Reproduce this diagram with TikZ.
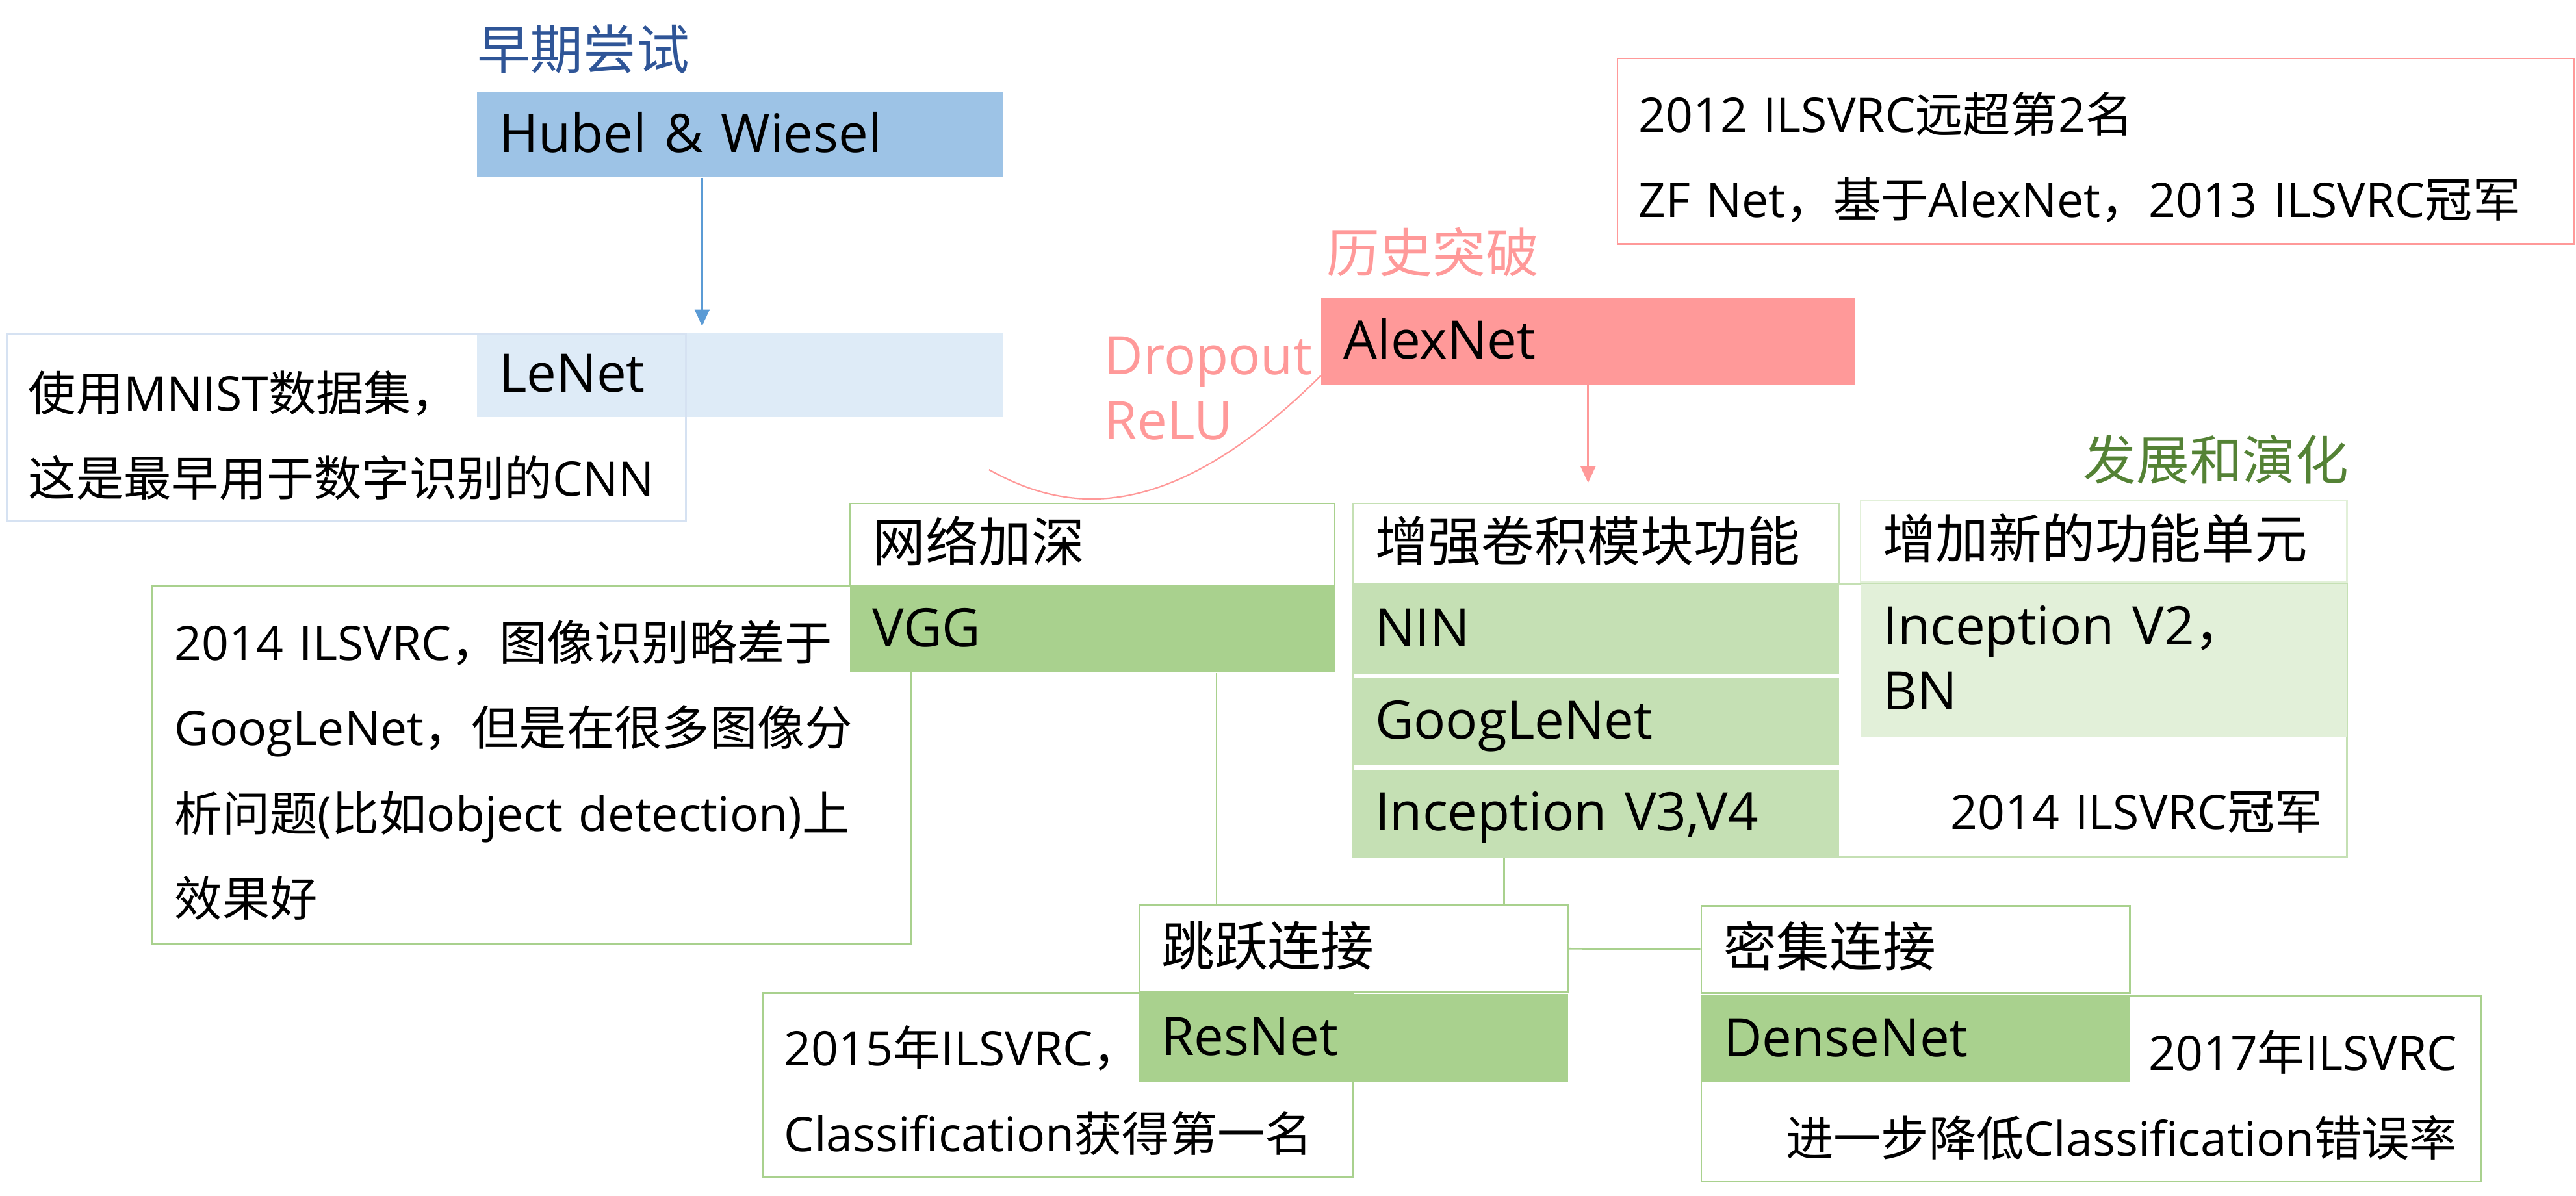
\documentclass[tikz,border=0pt]{standalone}
\usepackage{fontspec}
\setmainfont{Open Sans}
\newfontfamily\cjk{Noto Sans CJK SC}
\usepackage{xcolor}
\usepackage{tikz}
\usetikzlibrary{positioning,arrows.meta}
\definecolor{titleblue}{HTML}{2F5597}
\definecolor{hubelfill}{HTML}{9DC3E6}
\definecolor{arrblue}{HTML}{5B9BD5}
\definecolor{lenetfill}{HTML}{DEEBF7}
\definecolor{lenetline}{HTML}{D6E2F2}
\definecolor{pink}{HTML}{FF9999}
\definecolor{grnA}{HTML}{A9D18E}
\definecolor{grnB}{HTML}{C5E0B4}
\definecolor{grnC}{HTML}{E2F0D9}
\definecolor{grnT}{HTML}{548235}
\newcommand{\zh}[1]{{\cjk #1}}
\newcommand{\boxfont}{\fontsize{18.4}{22.6}\selectfont}
\newcommand{\notefont}{\fontsize{16.5}{29.6}\selectfont}
\newcommand{\boxstrut}{\rule[-0.25em]{0pt}{1.15em}}
\tikzset{
  blk/.style n args={2}{rectangle, anchor=north west, inner xsep=0.27cm, inner ysep=0pt,
    minimum width=#1*0.02cm, minimum height=#2*0.02cm, text width=#1*0.02cm-0.54cm,
    align=left, font=\boxfont},
  hdr/.style={draw=#1, line width=0.6pt, fill=white},
  note/.style={draw=#1, line width=0.6pt},
  tit/.style={inner sep=0pt, font=\boxfont, anchor=base west},
  labs/.style={inner sep=0pt, font=\notefont, text width=14cm, align=left, anchor=base west},
  link/.style={draw=grnA, line width=0.6pt},
  arr/.style={draw=#1, line width=0.6pt, -{Triangle[length=0.2cm,width=0.18cm]}},
}
\begin{document}
\begin{tikzpicture}[x=0.02cm, y=-0.02cm]
  \useasboundingbox (0,0) rectangle (1568,728);
  \fill[white] (0,0) rectangle (1568,728);

  % early attempts
  \node[tit, text=titleblue] (t1) at (290,42) {\zh{早期尝试}};
  \node[blk={320}{51.5}, fill=hubelfill] (hubel) at (290,56) {\boxstrut Hubel \& Wiesel};
  \node[blk={320}{51.5}, fill=lenetfill] (lenet) at (290,202) {\boxstrut LeNet};
  \node[blk={413}{114}, note=lenetline] (lenetnote) at (4,202.5) {};
  \node[labs] (lenettxt) at (17,250) {\zh{使用}MNIST\zh{数据集，}\\\zh{这是最早用于数字识别的}CNN};
  \draw[arr=arrblue, shorten >=2pt] ([xshift=-0.46cm]hubel.south) -- ([xshift=-0.46cm]lenet.north);

  % breakthrough
  \node[tit, text=pink] (t2) at (807,166) {\zh{历史突破}};
  \node[blk={324.6}{53}, fill=pink] (alexnet) at (804,181) {\boxstrut AlexNet};
  \node[blk={582}{113}, note=pink] (zfnote) at (984,35) {};
  \node[labs] (zftxt) at (997,80.4) {2012 ILSVRC\zh{远超第}2\zh{名}\\ZF Net\zh{，基于}AlexNet\zh{，}2013 ILSVRC\zh{冠军}};
  \node[tit, text=pink, text width=4cm, align=left] (drop) at (672,228) {Dropout\\ReLU};
  \coordinate (dropend) at (602,286);
  \draw[pink, line width=0.5pt] ([yshift=0.12cm]alexnet.south west) .. controls (709,323) and (647,311) .. (dropend);

  % development
  \node[tit, text=grnT, anchor=base east] (t3) at (1430,292) {\zh{发展和演化}};
  \node[blk={605}{166}, note=grnB] (winnote) at (823,355) {};
  \node[labs, anchor=base east, align=right] (wintxt) at (1414,505) {2014 ILSVRC\zh{冠军}};

  \node[blk={295}{50}, hdr=grnA] (vgghdr) at (517,306) {\boxstrut\zh{网络加深}};
  \node[blk={462}{218}, note=grnA, fill=white] (vggnote) at (92,356) {};
  \node[blk={295}{52}, fill=grnA, below=0pt of vgghdr] (vgg) {\boxstrut VGG};
  \node[labs] (vggtxt) at (106,402) {2014 ILSVRC\zh{，图像识别略差于}\\GoogLeNet\zh{，但是在很多图像分}\\\zh{析问题}(\zh{比如}object detection)\zh{上}\\\zh{效果好}};

  \node[blk={296}{49}, hdr=grnB] (enhdr) at (823,306) {\boxstrut\zh{增强卷积模块功能}};
  \node[blk={296}{54}, fill=grnB, below=0pt of enhdr] (nin) {\boxstrut NIN};
  \node[blk={296}{53}, fill=grnB, below=2*0.02cm of nin] (goog) {\boxstrut GoogLeNet};
  \node[blk={296}{53}, fill=grnB, below=2*0.02cm of goog] (incv34) {\boxstrut Inception V3,V4};

  \node[blk={296}{50}, hdr=grnC] (addhdr) at (1132,304) {\boxstrut\zh{增加新的功能单元}};
  \node[blk={296}{93}, fill=grnC, below=0pt of addhdr] (incv2) {\boxstrut Inception V2\zh{，}\\BN\boxstrut};

  \node[blk={261}{53}, hdr=grnA] (skiphdr) at (693,550.6) {\boxstrut\zh{跳跃连接}};
  \node[blk={359}{112}, note=grnA, fill=white] (resnote) at (464,604) {};
  \node[blk={261}{54}, fill=grnA, below=0pt of skiphdr] (resnet) {\boxstrut ResNet};
  \node[labs] (restxt) at (477,649) {2015\zh{年}ILSVRC\zh{，}\\Classification\zh{获得第一名}};

  \node[blk={261}{53}, hdr=grnA] (densehdr) at (1035,551) {\boxstrut\zh{密集连接}};
  \node[blk={475}{113}, note=grnA] (densenote) at (1035,606) {};
  \node[blk={261}{52}, fill=grnA, below=1.6*0.02cm of densehdr] (densenet) {\boxstrut DenseNet};
  \node[labs, anchor=base east, align=right] (densetxt) at (1496,651.8) {2017\zh{年}ILSVRC\\\zh{进一步降低}Classification\zh{错误率}};

  % connectors
  \draw[arr=pink, shorten >=0.24cm] (alexnet.south) -- (alexnet.south |- enhdr.north);
  \draw[link] ([xshift=1.51cm]vgg.south) -- ([xshift=1.51cm]vgg.south |- skiphdr.north);
  \draw[link] ([xshift=-1.12cm]incv34.south) -- ([xshift=-1.12cm]incv34.south |- skiphdr.north);
  \draw[link] (skiphdr.east) -- (densehdr.west);
\end{tikzpicture}
\end{document}
